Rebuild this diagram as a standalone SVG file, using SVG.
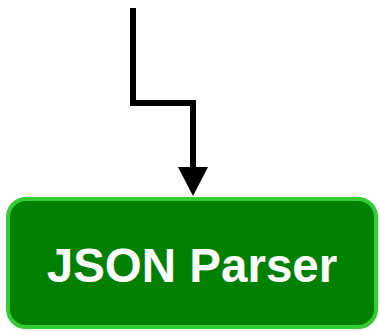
<svg xmlns="http://www.w3.org/2000/svg" width="379" height="331" viewBox="0 0 379 331">
<style>
.edge{fill:none;stroke:#000;stroke-width:6}
.node{fill:#008000;stroke:#33cc33;stroke-width:4}
.label{font-family:"Liberation Sans",Arial,sans-serif;font-weight:bold;font-size:47.5px;fill:#fff;text-anchor:middle}
</style>
<g id="connectors">
<polyline class="edge" points="133,8 133,103 193,103 193,170"/>
<polygon points="178,167 208,167 193,196" fill="#000"/>
</g>
<g id="json-parser">
<rect class="node" x="8" y="199" width="368" height="128" rx="18" ry="18"/>
<text class="label" x="192" y="282">JSON Parser</text>
</g>
</svg>
